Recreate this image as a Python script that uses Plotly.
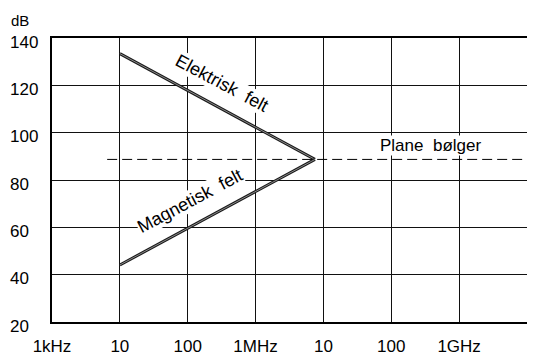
import plotly.graph_objects as go

# Data
freq_ticks = [1e3, 1e4, 1e5, 1e6, 1e7, 1e8, 1e9, 1e10]
freq_labels = ["1kHz", "10", "100", "1MHz", "10", "100", "1GHz", "10"]
db_ticks = [20, 40, 60, 80, 100, 120, 140]

elektrisk_f = [1e4, 7.5e6]
elektrisk_db = [133.4, 88.7]
magnetisk_f = [1e4, 7.5e6]
magnetisk_db = [44.1, 88.7]
plane_f = [6.5e3, 1e10]
plane_db = [88.7, 88.7]

FONT = "Liberation Sans, Arial, sans-serif"

fig = go.Figure()

for fx, fy in [(elektrisk_f, elektrisk_db), (magnetisk_f, magnetisk_db)]:
    fig.add_trace(go.Scatter(x=fx, y=fy, mode="lines",
                             line=dict(color="#1a1a1a", width=3), showlegend=False,
                             hoverinfo="skip"))
    fig.add_trace(go.Scatter(x=fx, y=fy, mode="lines",
                             line=dict(color="#8a8a8a", width=1), showlegend=False,
                             hoverinfo="skip"))

fig.add_trace(go.Scatter(x=plane_f, y=plane_db, mode="lines",
                         line=dict(color="black", width=1, dash="10px,5px"),
                         showlegend=False, hoverinfo="skip"))

fig.update_xaxes(type="log", range=[3, 10], tickvals=freq_ticks, ticktext=freq_labels,
                 showgrid=True, gridcolor="#111", gridwidth=1,
                 showline=True, linecolor="black", linewidth=2, mirror=True,
                 ticks="", tickfont=dict(family=FONT, size=17, color="black"),
                 zeroline=False, automargin=False, ticklabelstandoff=8)
fig.update_yaxes(range=[20, 140], tickvals=db_ticks, showticklabels=False,
                 showgrid=True, gridcolor="#111", gridwidth=1,
                 showline=True, linecolor="black", linewidth=2, mirror=True,
                 ticks="", zeroline=False, automargin=False)

annotations = []
for v in db_ticks:
    annotations.append(dict(x=-0.092, xref="paper", y=v, yref="y", text=str(v),
                            xanchor="left", yanchor="middle", yshift=-4,
                            showarrow=False,
                            font=dict(family=FONT, size=17, color="black")))
annotations.append(dict(x=-0.09, xref="paper", y=1.06, yref="paper", text="dB",
                        xanchor="left", yanchor="middle", showarrow=False,
                        font=dict(family=FONT, size=15, color="black")))
annotations.append(dict(x=5.5, y=121.0, xref="x", yref="y", text="Elektrisk\u00a0 felt",
                        textangle=28, showarrow=False, bgcolor="white", borderpad=0,
                        font=dict(family=FONT, size=18, color="black")))
annotations.append(dict(x=5.034, y=71.0, xref="x", yref="y", text="Magnetisk\u00a0 felt",
                        textangle=-28, showarrow=False, bgcolor="white", borderpad=0,
                        font=dict(family=FONT, size=18, color="black")))
annotations.append(dict(x=8.585, y=94.7, xref="x", yref="y", text="Plane\u00a0 bølger",
                        showarrow=False, bgcolor="white", borderpad=0,
                        font=dict(family=FONT, size=17, color="black")))

# page body has an 8px margin: figure spans page x 8..535, y 8..361
fig.update_layout(width=527, height=353, autosize=False,
                  margin=dict(l=44, r=8, t=30, b=39),
                  plot_bgcolor="white", paper_bgcolor="white",
                  annotations=annotations)

fig.write_html("out.html")
